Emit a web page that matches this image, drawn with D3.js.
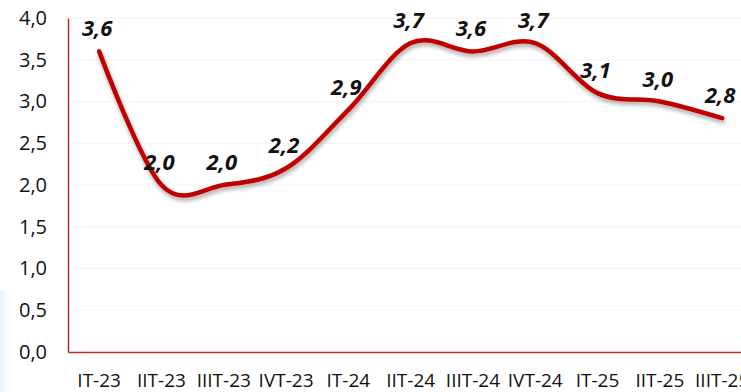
<!DOCTYPE html>
<html><head><meta charset="utf-8">
<script src="https://cdn.jsdelivr.net/npm/d3@7"></script>
<style>html,body{margin:0;padding:0;background:#fff;overflow:hidden}</style>
</head><body>
<svg id="c" width="741" height="392"></svg>
<script>
const categories = ["IT-23","IIT-23","IIIT-23","IVT-23","IT-24","IIT-24","IIIT-24","IVT-24","IT-25","IIT-25","IIIT-25"];
const values = [3.6, 2.0, 2.0, 2.2, 2.9, 3.7, 3.6, 3.7, 3.1, 3.0, 2.8];
const yTicks = [0, 0.5, 1.0, 1.5, 2.0, 2.5, 3.0, 3.5, 4.0];

(function(){
const svg = d3.select("#c");
const mLeft = 68, mTop = 18, mBottom = 352;
const step = 62.3;
const x = d3.scaleBand().domain(categories).range([mLeft, mLeft + step * categories.length]).padding(0);
const y = d3.scaleLinear().domain([0, 4]).range([mBottom, mTop]);
const fmt = d => d.toFixed(1).replace(".", ",");

const defs = svg.append("defs");
const g1 = defs.append("linearGradient").attr("id","glow").attr("x1",0).attr("x2",1);
g1.append("stop").attr("offset",0).attr("stop-color","#e6f0fa");
g1.append("stop").attr("offset",1).attr("stop-color","#ffffff").attr("stop-opacity",0);
svg.append("rect").attr("x",0).attr("y",290).attr("width",14).attr("height",102).attr("fill","url(#glow)");

const f = defs.append("filter").attr("id","sh").attr("x","-10%").attr("y","-10%").attr("width","120%").attr("height","130%");
f.append("feGaussianBlur").attr("in","SourceAlpha").attr("stdDeviation",2).attr("result","b");
f.append("feOffset").attr("in","b").attr("dx",1).attr("dy",3).attr("result","o");
f.append("feComponentTransfer").attr("in","o").attr("result","o2").append("feFuncA").attr("type","linear").attr("slope",0.35);
const mg = f.append("feMerge"); mg.append("feMergeNode").attr("in","o2"); mg.append("feMergeNode").attr("in","SourceGraphic");

svg.append("g").selectAll("line").data(yTicks.filter(d => d > 0)).join("line")
  .attr("x1", mLeft).attr("x2", 741).attr("y1", d => y(d)).attr("y2", d => y(d))
  .attr("stroke", "#f4f4f4").attr("stroke-width", 1);

const ya = svg.append("g").attr("transform", `translate(${mLeft},0)`)
  .call(d3.axisLeft(y).tickValues(yTicks).tickFormat(fmt).tickSize(0).tickPadding(21));
ya.select(".domain").attr("stroke", "#c0262a").attr("stroke-width", 1.5);
ya.selectAll("text").attr("font-family", "Open Sans, sans-serif").attr("font-size", 20).attr("fill", "#111");

const xa = svg.append("g").attr("transform", `translate(0,${mBottom})`)
  .call(d3.axisBottom(x).tickSize(0).tickPadding(22));
xa.select(".domain").attr("stroke", "#c0262a").attr("stroke-width", 1.5);
xa.selectAll("text").attr("font-family", "Open Sans, sans-serif").attr("font-size", 19).attr("fill", "#111");

const cx = d => x(d) + x.bandwidth() / 2;
const line = d3.line().x((d, i) => cx(categories[i])).y(d => y(d)).curve(d3.curveCatmullRom.alpha(0));
svg.append("path").datum(values).attr("d", line).attr("fill", "none")
  .attr("stroke", "#c00000").attr("stroke-width", 4.5).attr("stroke-linecap", "round")
  .attr("filter", "url(#sh)");

svg.append("g").selectAll("text").data(values).join("text")
  .attr("x", (d, i) => cx(categories[i]) - 2)
  .attr("y", d => y(d) - 15)
  .attr("text-anchor", "middle")
  .attr("font-family", "Open Sans, sans-serif").attr("font-size", 22)
  .attr("font-weight", "bold").attr("font-style", "italic").attr("fill", "#111")
  .text(fmt);
})();
</script>
</body></html>
